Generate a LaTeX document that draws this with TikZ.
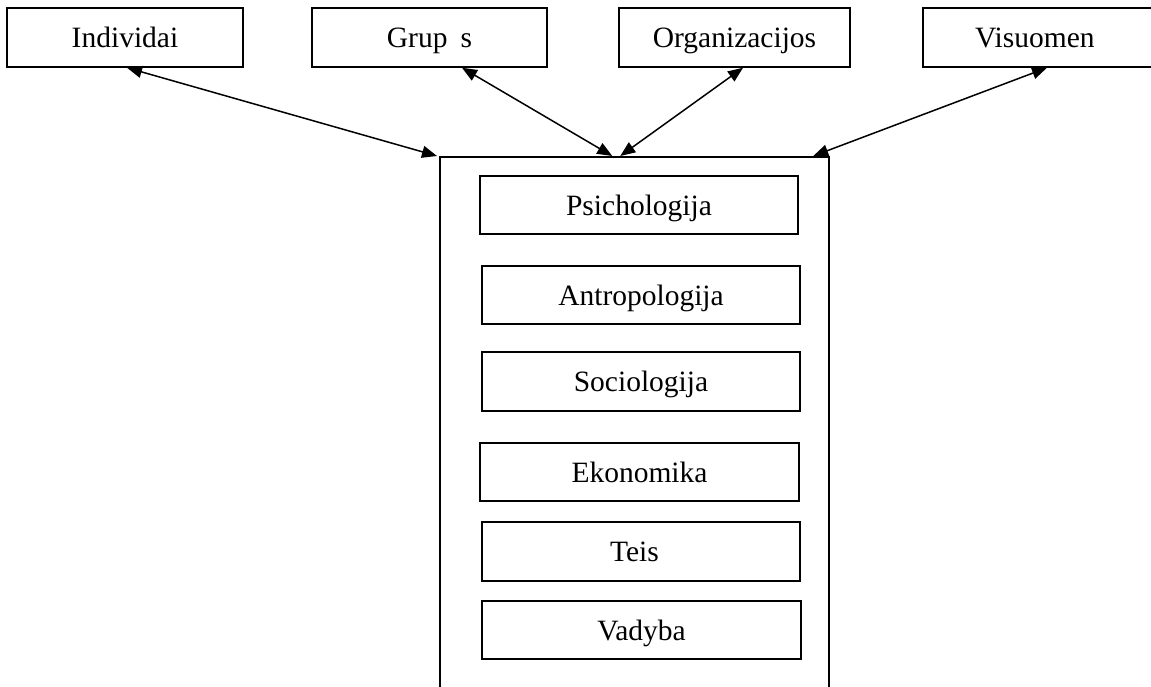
\documentclass[tikz,border=0pt]{standalone}
\usepackage{fontspec}
\setmainfont{Liberation Serif}
\usetikzlibrary{arrows.meta}
\begin{document}
\begin{tikzpicture}[x=1pt,y=-1pt,
  topbox/.style={draw, line width=1.5pt, rectangle, inner sep=0pt, minimum height=59pt, text height=20pt, text depth=0pt, font=\fontsize{29.5}{35}\selectfont},
  discbox/.style={draw, line width=1.5pt, rectangle, inner sep=0pt, minimum width=318pt, minimum height=58pt, text height=20pt, text depth=0pt, font=\fontsize{29.5}{35}\selectfont},
  mainbox/.style={draw, line width=2pt, rectangle, inner sep=0pt, minimum width=388.5pt, minimum height=600pt},
  link/.style={line width=1.5pt, {Triangle[length=15pt,width=12pt]}-{Triangle[length=15pt,width=12pt]}}]
\useasboundingbox (0,0) rectangle (1151,687);
\node[topbox, minimum width=236pt] (ind) at (125,37.5) {Individai};
\node[topbox, minimum width=235pt] (grp) at (429.5,37.5) {Grup\phantom{ė}s};
\node[topbox, minimum width=231pt] (org) at (734.5,37.5) {Organizacijos};
\node[topbox, minimum width=237pt] (vis) at (1041.5,37.5) {Visuomen\phantom{ė}};
\node[mainbox] (main) at (634.25,457) {};
\node[discbox] (psi) at (639,205) {Psichologija};
\node[discbox] (ant) at (641,295) {Antropologija};
\node[discbox, minimum height=59pt] (soc) at (641,381.5) {Sociologija};
\node[discbox, minimum width=319pt] (eko) at (639.5,472) {Ekonomika};
\node[discbox, minimum height=59pt] (tei) at (641,551.5) {Teis\phantom{ė}};
\node[discbox, minimum width=319pt] (vad) at (641.5,630) {Vadyba};
\draw[link] ([xshift=2pt]ind.south) -- ([xshift=-2pt]main.north west);
\draw[link] ([xshift=32.5pt]grp.south) -- ([xshift=-22pt]main.north);
\draw[link] ([xshift=8.5pt]org.south) -- ([xshift=-14pt]main.north);
\draw[link] ([xshift=5.5pt]vis.south) -- ([xshift=179pt]main.north);
\end{tikzpicture}
\end{document}
